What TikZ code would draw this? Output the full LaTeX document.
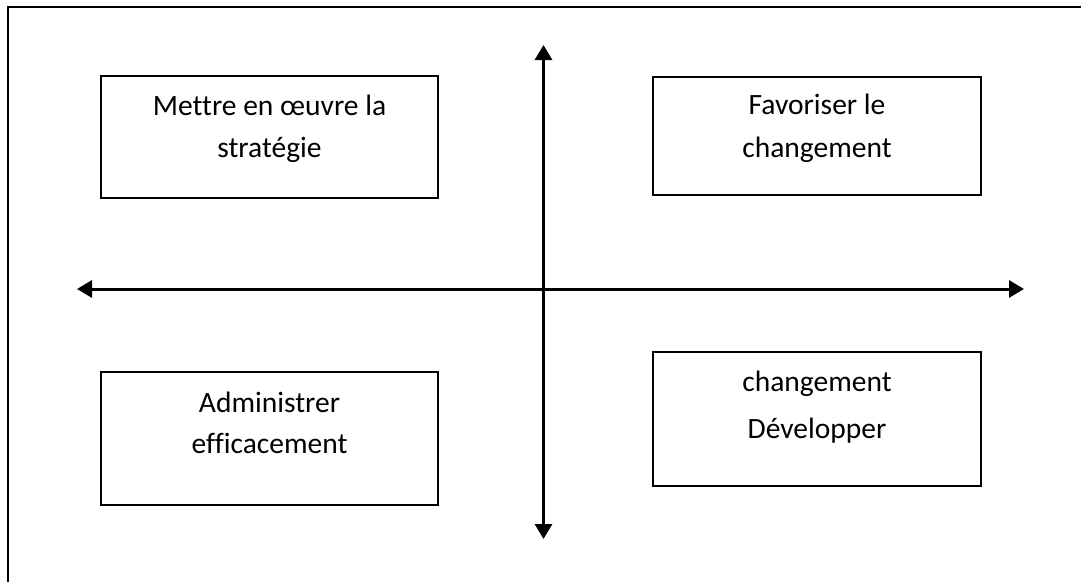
\documentclass[tikz,border=0pt]{standalone}
\usepackage{fontspec}
\setmainfont[Ligatures=NoCommon]{Carlito}
\usetikzlibrary{arrows.meta}
\tikzset{
  quadbox/.style={draw=black, line width=2pt, inner sep=0pt},
  boxtext/.style={anchor=base, inner sep=0pt, font=\fontsize{29.5}{35}\selectfont},
  axis/.style={line width=3pt, {Triangle[length=15pt,width=17pt]}-{Triangle[length=15pt,width=17pt]}},
  frameline/.style={line width=2pt}
}
\begin{document}
\begin{tikzpicture}[x=1pt,y=-1pt]
  \useasboundingbox (0,0) rectangle (1081,582);

  % page frame (only the top and left edges fall inside the view)
  \coordinate (fbl) at (8,582);
  \coordinate (ftl) at (8,7);
  \coordinate (ftr) at (1081,7);
  \draw[frameline] (fbl) -- (ftl) -- (ftr);

  % the four quadrant boxes
  \node[quadbox, minimum width=337pt, minimum height=122pt] (tl) at (269.5,137) {};
  \node[quadbox, minimum width=328pt, minimum height=118pt] (tr) at (817,136) {};
  \node[quadbox, minimum width=337pt, minimum height=133pt] (bl) at (269.5,438.5) {};
  \node[quadbox, minimum width=328pt, minimum height=134pt] (br) at (817,419) {};

  % box texts
  \node[boxtext] (tl1) at (269.5,115) {Mettre en œuvre la};
  \node[boxtext] (tl2) at (269.5,157) {stratégie};
  \node[boxtext] (tr1) at (817,114) {Favoriser le};
  \node[boxtext] (tr2) at (817,157) {changement};
  \node[boxtext] (bl1) at (269.5,412) {Administrer};
  \node[boxtext] (bl2) at (269.5,453) {efficacement};
  \node[boxtext] (br1) at (817,391) {changement};
  \node[boxtext] (br2) at (817,438) {Développer};

  % axes
  \coordinate (ytop) at (543.5,45);
  \coordinate (ybot) at (543.5,539);
  \coordinate (xleft) at (77,289);
  \coordinate (xright) at (1024,289);
  \draw[axis] (ybot) -- (ytop);
  \draw[axis] (xleft) -- (xright);
\end{tikzpicture}
\end{document}
